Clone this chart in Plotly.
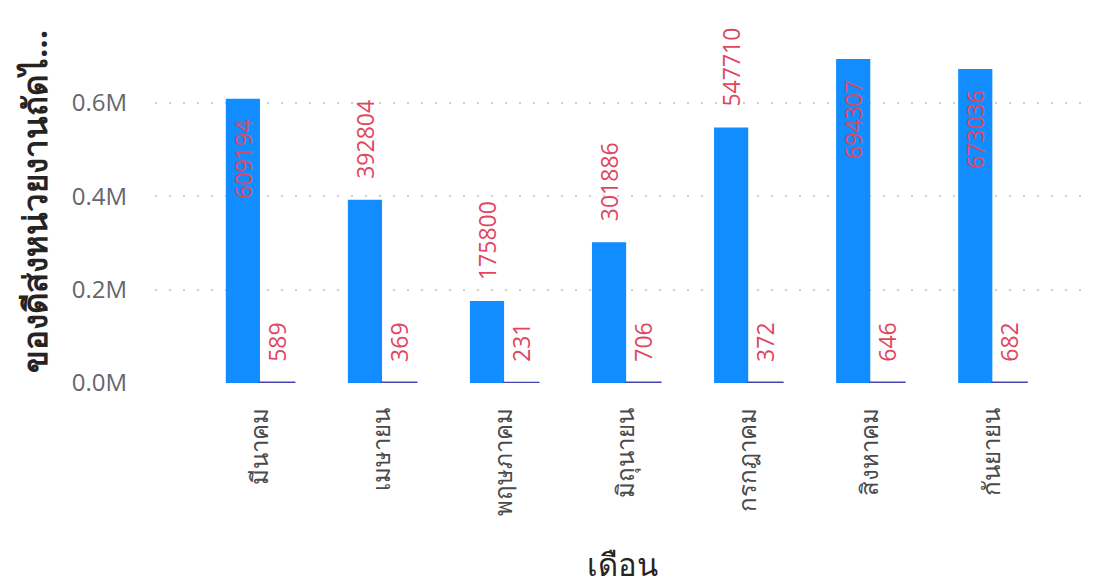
import plotly.graph_objects as go

months = ["มีนาคม", "เมษายน", "พฤษภาคม", "มิถุนายน", "กรกฎาคม", "สิงหาคม", "กันยายน"]
series_a = [609194, 392804, 175800, 301886, 547710, 694307, 673036]
series_b = [589, 369, 231, 706, 372, 646, 682]
label_pos_a = ["inside", "outside", "outside", "outside", "outside", "inside", "inside"]
y_tick_vals = [0, 200000, 400000, 600000]
y_tick_text = ["0.0M", "0.2M", "0.4M", "0.6M"]
y_title = "ของดีส่งหน่วยงานถัดไ..."
x_title = "เดือน"

LABEL_RED = "#E0475E"
FONT = "Segoe UI, Open Sans, Noto Sans, sans-serif"
PAD = "\u00a0\u00a0\u00a0"


def label_text(values, positions):
    out = []
    for v, p in zip(values, positions):
        out.append(str(v) + PAD if p == "inside" else PAD + str(v))
    return out


fig = go.Figure()
fig.add_trace(go.Bar(
    x=months, y=series_a, name="A",
    marker=dict(color="#118DFF", line=dict(width=0)),
    text=label_text(series_a, label_pos_a), texttemplate="%{text}",
    textposition=label_pos_a, textangle=-90,
    insidetextanchor="end",
    textfont=dict(color=LABEL_RED, size=23, family=FONT),
    insidetextfont=dict(color=LABEL_RED, size=23, family=FONT),
    outsidetextfont=dict(color=LABEL_RED, size=23, family=FONT),
    constraintext="none", cliponaxis=False,
))
fig.add_trace(go.Bar(
    x=months, y=series_b, name="B",
    marker=dict(color="#12239E", line=dict(color="#4545AE", width=2.5)),
    text=label_text(series_b, ["outside"] * len(series_b)), texttemplate="%{text}",
    textposition="outside", textangle=-90,
    textfont=dict(color=LABEL_RED, size=23, family=FONT),
    outsidetextfont=dict(color=LABEL_RED, size=23, family=FONT),
    constraintext="none", cliponaxis=False,
))

fig.update_layout(
    width=1094, height=585,
    margin=dict(l=155, r=4, t=20, b=202),
    plot_bgcolor="white", paper_bgcolor="white",
    barmode="group", bargap=0.44, bargroupgap=0,
    showlegend=False,
    font=dict(family=FONT),
)
fig.update_xaxes(
    type="category", range=[-0.86, 6.8],
    tickangle=-90, tickfont=dict(size=24, color="#4A4A4A", family=FONT),
    showgrid=False, showline=False, zeroline=False,
    ticks="outside", ticklen=14, tickcolor="rgba(0,0,0,0)",
    title=dict(text=x_title, font=dict(size=31, color="#252423", family=FONT), standoff=42),
)
fig.update_yaxes(
    range=[0, 778000],
    tickvals=y_tick_vals, ticktext=y_tick_text,
    tickfont=dict(size=24, color="#66666E", family=FONT),
    showgrid=True, gridcolor="#CFCFCF", gridwidth=2, griddash="2px,12px",
    zeroline=False, showline=False,
    ticks="outside", ticklen=22, tickcolor="rgba(0,0,0,0)",
    title=dict(text="<b>" + y_title + "</b>", font=dict(size=33, color="#252423", family=FONT), standoff=14),
)

fig.write_html("out.html")
